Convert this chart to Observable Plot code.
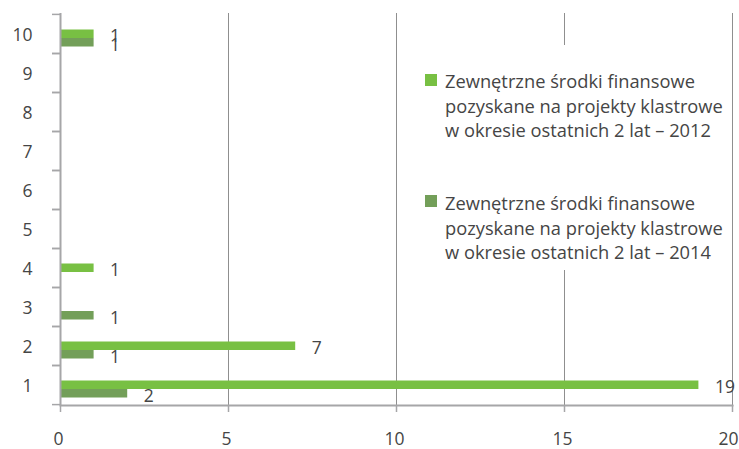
<!DOCTYPE html>
<html>
<head>
<meta charset="utf-8">
<script src="https://cdn.jsdelivr.net/npm/d3@7"></script>
<script src="https://cdn.jsdelivr.net/npm/@observablehq/plot@0.6"></script>
<style>
  html, body { margin: 0; padding: 0; background: #fff; }
  #chart { position: relative; width: 739px; height: 449px; font-family: "Open Sans", sans-serif; color: #454545; }
  #legend { position: absolute; left: 420px; top: 45px; width: 308px; height: 225px; background: #fff; }
  .sw { position: absolute; width: 12px; height: 12px; }
  .lt { position: absolute; left: 25px; font-size: 18.3px; line-height: 24.5px; white-space: nowrap; color: #454545; }
</style>
</head>
<body>
<div id="chart"></div>
<script>
// Number of clusters per category (1–10) and the two survey years
const categories = [1, 2, 3, 4, 5, 6, 7, 8, 9, 10];
const values2012 = [19, 7, 0, 1, 0, 0, 0, 0, 0, 1];
const values2014 = [2, 1, 1, 0, 0, 0, 0, 0, 0, 1];
const xTicks = [0, 5, 10, 15, 20];
const gridValues = [5, 10, 15, 20];
const seriesNames = [
  ["Zewnętrzne środki finansowe", "pozyskane na projekty klastrowe", "w okresie ostatnich 2 lat – 2012"],
  ["Zewnętrzne środki finansowe", "pozyskane na projekty klastrowe", "w okresie ostatnich 2 lat – 2014"]
];

const color2012 = "#78c043";
const color2014 = "#739f59";
const axisGray = "#a6a6a8";
const gridGray = "#8f8f8f";
const textColor = "#454545";

const table = categories.map((c, i) => ({cat: c, v2012: values2012[i], v2014: values2014[i]}));
const rows2012 = table.filter(d => d.v2012 > 0);
const rows2014 = table.filter(d => d.v2014 > 0);

const W = 739, H = 449, mt = 13, mb = 44, ml = 60, mr = 7;
const step = (H - mt - mb) / categories.length;
const lastTick = xTicks[xTicks.length - 1];

const plot = Plot.plot({
  width: W,
  height: H,
  marginLeft: ml,
  marginRight: mr,
  marginTop: mt,
  marginBottom: mb,
  style: {fontFamily: "Open Sans, sans-serif", fontSize: "17.5px", color: textColor, background: "#fff"},
  x: {domain: [0, 20], axis: null},
  y: {domain: categories.slice().reverse(), paddingInner: 0.566, paddingOuter: 0.283, axis: null},
  marks: [
    Plot.ruleX(gridValues, {stroke: gridGray, strokeWidth: 1}),
    Plot.barX(rows2012, {x: "v2012", y: "cat", fill: color2012, insetBottom: 8.5, dy: 4.5}),
    Plot.barX(rows2014, {x: "v2014", y: "cat", fill: color2014, insetTop: 8.5, dy: 4.5}),
    Plot.text(rows2012, {x: "v2012", y: "cat", text: d => String(d.v2012), textAnchor: "start", dx: 16, dy: 2, fill: textColor}),
    Plot.text(rows2014, {x: "v2014", y: "cat", text: d => String(d.v2014), textAnchor: "start", dx: 16, dy: 11, fill: textColor}),
    Plot.ruleX([0], {stroke: axisGray, strokeWidth: 2}),
    Plot.frame({anchor: "bottom", stroke: axisGray, strokeWidth: 2}),
    // x tick marks
    Plot.axisX({ticks: xTicks, tickSize: 7, stroke: axisGray, strokeWidth: 1.5, fill: "none", label: null}),
    // x tick labels; the last one is kept inside the right edge
    Plot.axisX({ticks: xTicks.slice(0, -1), tickSize: 0, tickPadding: 27, dx: -2, fill: textColor, tickFormat: d => String(d), label: null}),
    Plot.axisX({ticks: [lastTick], tickSize: 0, tickPadding: 27, textAnchor: "end", dx: 6, fill: textColor, tickFormat: d => String(d), label: null}),
    // y labels centred on categories, tick marks on category boundaries
    Plot.axisY({tickSize: 0, tickPadding: 28, dy: 1, fill: textColor, label: null}),
    Plot.axisY({tickSize: 8, fill: "none", stroke: axisGray, strokeWidth: 1.5, dy: -step / 2, label: null}),
    Plot.axisY({tickSize: 8, fill: "none", stroke: axisGray, strokeWidth: 1.5, dy: step / 2, label: null})
  ]
});

const chart = document.getElementById("chart");
chart.appendChild(plot);

// Legend box, drawn on top of the plot with a white background
const legend = document.createElement("div");
legend.id = "legend";
const swatchColors = [color2012, color2014];
const swatchTops = [29, 150];
const textTops = [24, 146];
seriesNames.forEach((lines, i) => {
  const sw = document.createElement("div");
  sw.className = "sw";
  sw.style.left = "5px";
  sw.style.top = swatchTops[i] + "px";
  sw.style.background = swatchColors[i];
  legend.appendChild(sw);
  const t = document.createElement("div");
  t.className = "lt";
  t.style.top = textTops[i] + "px";
  t.innerHTML = lines.join("<br>");
  legend.appendChild(t);
});
chart.appendChild(legend);
</script>
</body>
</html>
